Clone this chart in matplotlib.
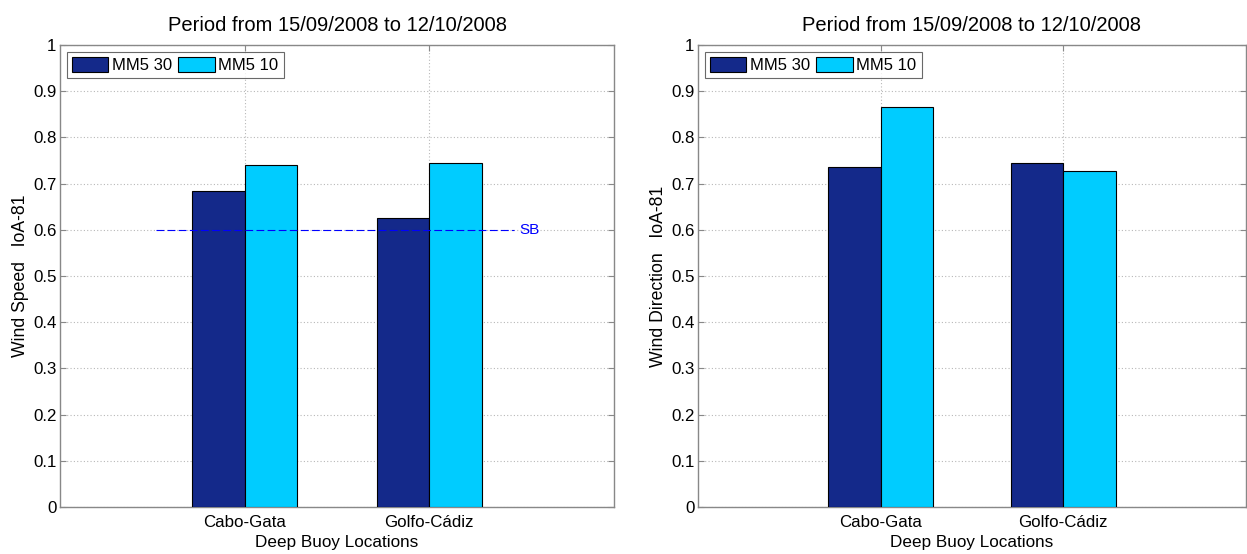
import matplotlib
matplotlib.use("Agg")
import matplotlib.pyplot as plt
import numpy as np

plt.rcParams['font.family'] = ['Liberation Sans', 'DejaVu Sans']

categories = ["Cabo-Gata", "Golfo-Cádiz"]
series_names = ["MM5 30", "MM5 10"]
speed_mm5_30 = [0.684, 0.626]
speed_mm5_10 = [0.740, 0.745]
dir_mm5_30 = [0.737, 0.744]
dir_mm5_10 = [0.866, 0.727]
sb_value = 0.6
title_text = "Period from 15/09/2008 to 12/10/2008"
xlabel_text = "Deep Buoy Locations"
ylabels = ["Wind Speed   IoA-81", "Wind Direction   IoA-81"]
yticks = np.round(np.arange(0, 1.01, 0.1), 1)
ytick_labels = ["0", "0.1", "0.2", "0.3", "0.4", "0.5", "0.6", "0.7", "0.8", "0.9", "1"]

colors = ["#14298A", "#00CCFF"]
W, H = 1247, 554
fig = plt.figure(figsize=(W / 100, H / 100), dpi=100)

axes_px = [(60, 614), (698, 1246)]
top_px, bot_px = 45, 507


def draw(ax, v30, v10, ylabel, sb=False):
    x = np.arange(1, len(categories) + 1)
    bw = 2 / 3.5 / 2
    ax.bar(x - bw / 2, v30, bw, color=colors[0], edgecolor="black", linewidth=0.8, zorder=3, label=series_names[0])
    ax.bar(x + bw / 2, v10, bw, color=colors[1], edgecolor="black", linewidth=0.8, zorder=3, label=series_names[1])
    ax.set_xlim(0, 3)
    ax.set_ylim(0, 1)
    ax.set_xticks(x)
    ax.set_xticklabels(categories)
    ax.set_yticks(yticks)
    ax.set_yticklabels(ytick_labels)
    ax.tick_params(direction="in", top=True, right=True, labelsize=12.2, length=4, color="#888888")
    ax.tick_params(axis="y", pad=2.5)
    ax.tick_params(axis="x", pad=6)
    ax.grid(True, linestyle=(0, (1, 2)), color="#b8b8b8", linewidth=0.8, zorder=0)
    for s in ax.spines.values():
        s.set_color("#888888")
        s.set_linewidth(1.0)
    ax.set_title(title_text, fontsize=14.5, pad=10)
    ax.set_xlabel(xlabel_text, fontsize=12.3, labelpad=3)
    ax.set_ylabel(ylabel, fontsize=12.7, labelpad=3)
    if sb:
        ax.plot([0.52, 2.46], [sb_value, sb_value], color="#0000FF", linestyle=(0, (7, 3)), linewidth=0.8, zorder=4)
        ax.text(2.49, sb_value, "SB", color="#0000FF", fontsize=11, va="center", ha="left", zorder=5)
    leg = ax.legend(loc="upper left", ncol=2, fontsize=12, frameon=True, fancybox=False,
                    handlelength=2.2, handleheight=1.0, handletextpad=0.2, columnspacing=0.4,
                    borderpad=0.3, borderaxespad=0.4)
    leg.get_frame().set_edgecolor("#444444")
    leg.get_frame().set_linewidth(0.8)


for i, (xl, xr) in enumerate(axes_px):
    ax = fig.add_axes([xl / W, 1 - bot_px / H, (xr - xl) / W, (bot_px - top_px) / H])
    if i == 0:
        draw(ax, speed_mm5_30, speed_mm5_10, ylabels[0], sb=True)
    else:
        draw(ax, dir_mm5_30, dir_mm5_10, ylabels[1])

fig.savefig("out.png", dpi=100)
